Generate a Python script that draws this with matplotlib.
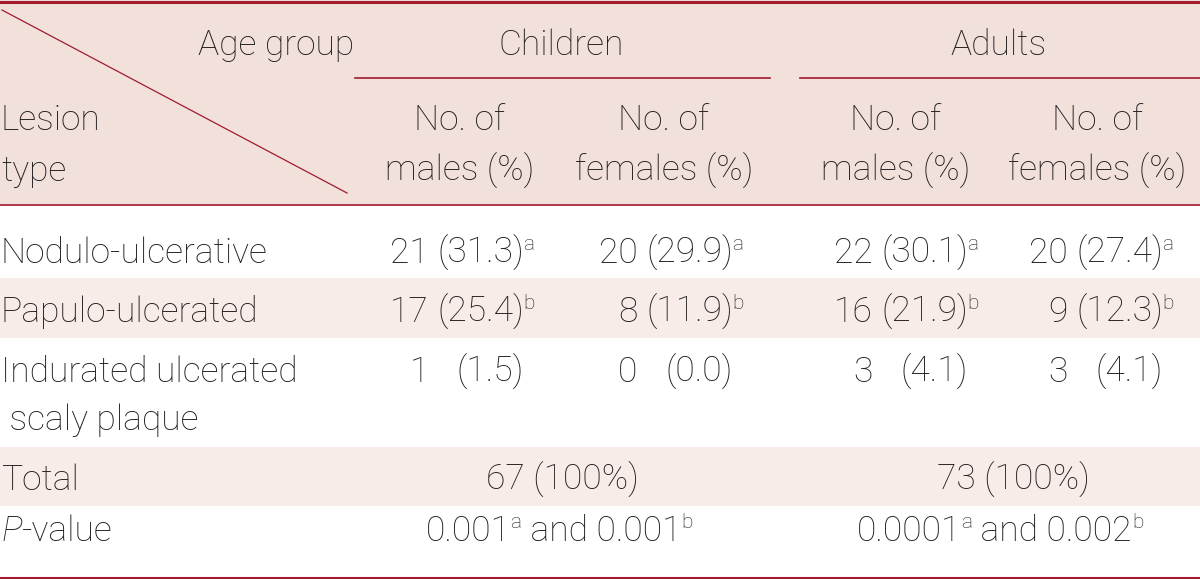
import matplotlib
matplotlib.use("Agg")
import matplotlib.pyplot as plt
from matplotlib.patches import Rectangle

# table contents
age_groups = ["Children", "Adults"]
sub_headers = [("No. of", "males (%)"), ("No. of", "females (%)")]
lesion_types = ["Nodulo-ulcerative", "Papulo-ulcerated", "Indurated ulcerated"]
lesion_extra = " scaly plaque"

children_male_n = [21, 17, 1]
children_male_pct = [31.3, 25.4, 1.5]
children_female_n = [20, 8, 0]
children_female_pct = [29.9, 11.9, 0.0]
adult_male_n = [22, 16, 3]
adult_male_pct = [30.1, 21.9, 4.1]
adult_female_n = [20, 9, 3]
adult_female_pct = [27.4, 12.3, 4.1]
row_marks = ["a", "b", ""]

totals = [67, 73]
p_values = [("0.001", "0.001"), ("0.0001", "0.002")]

# style
LINE = "#a01c2d"
HEAD_BG = "#f2e1db"
BAND_BG = "#f7ece8"
TXT = "#231f20"
FONT = "Roboto"
FS = 25.5
SUP_FS = 15

W, H = 1200, 579
fig = plt.figure(figsize=(12, 5.79), dpi=100)
ax = fig.add_axes([0, 0, 1, 1])
ax.set_xlim(0, W)
ax.set_ylim(H, 0)
ax.axis("off")
renderer = fig.canvas.get_renderer()

base = dict(family=FONT, fontweight="light", color=TXT, va="baseline")


def txt(x, y, s, ha="left", size=FS, **kw):
    return ax.text(x, y, s, ha=ha, fontsize=size, **{**base, **kw})


def width(t):
    return t.get_window_extent(renderer).width


def measure(s):
    t = txt(W / 2, H / 2, s)
    w = width(t)
    t.remove()
    return w


# backgrounds
ax.add_patch(Rectangle((0, 0), W, 205, color=HEAD_BG, lw=0))
ax.add_patch(Rectangle((0, 278), W, 60, color=BAND_BG, lw=0))
ax.add_patch(Rectangle((0, 447), W, 59, color=BAND_BG, lw=0))

# rules
ax.plot([0, W], [1.5, 1.5], color=LINE, lw=2.2)
ax.plot([0, W], [205, 205], color=LINE, lw=1.2)
ax.plot([0, W], [577.5, 577.5], color=LINE, lw=2.2)
ax.plot([355, 770], [78, 78], color=LINE, lw=1.2)
ax.plot([800, W], [78, 78], color=LINE, lw=1.2)
ax.plot([2, 347], [10, 193], color=LINE, lw=0.9)

# header
txt(354, 55, "Age group", ha="right")
for label, cx in zip(age_groups, [561, 998]):
    txt(cx, 55, label, ha="center")
txt(1, 130, "Lesion")
txt(1, 181, "type")
sub_x = [460, 664, 896, 1097]
for i, cx in enumerate(sub_x):
    top, bottom = sub_headers[i % 2]
    txt(cx, 130, top, ha="center")
    txt(cx, 181, bottom, ha="center")

# body
row_y = [263, 322, 382]
for name, y in zip(lesion_types, row_y):
    txt(1, y, name)
txt(1, 430, lesion_extra)

columns = [
    (children_male_n, children_male_pct, 524),
    (children_female_n, children_female_pct, 733),
    (adult_male_n, adult_male_pct, 968),
    (adult_female_n, adult_female_pct, 1163),
]
space_w = measure("0 0") - measure("00")
for counts, pcts, x_pct in columns:
    pct_texts = [txt(x_pct, y, f"({p:.1f})", ha="right") for p, y in zip(pcts, row_y)]
    # numbers right-aligned one space left of the widest percentage
    x_num = x_pct - max(width(t) for t in pct_texts) - space_w
    for n, mark, y in zip(counts, row_marks, row_y):
        txt(x_num, y, str(n), ha="right")
        if mark:
            txt(x_pct - 1, y - 13, mark, size=SUP_FS)

txt(1, 490, "Total")
for t, cx in zip(totals, [562, 1013]):
    txt(cx, 490, f"{t} (100%)", ha="center")


# P-value row: text runs with superscripts, centred as a whole
def draw_runs(cx, y, runs):
    items = []
    for s, kind in runs:
        if kind == "sup":
            t = txt(W / 2, y - 13, s, size=SUP_FS)
        elif kind == "it":
            t = txt(W / 2, y, s, fontstyle="italic")
        else:
            t = txt(W / 2, y, s)
        items.append(t)
    widths = [width(t) for t in items]
    x = cx - sum(widths) / 2 if cx is not None else 1
    for t, w in zip(items, widths):
        t.set_x(x)
        x += w


draw_runs(None, 541, [("P", "it"), ("-value", "n")])
for (pa, pb), cx in zip(p_values, [559, 1000]):
    draw_runs(cx, 541, [(pa, "n"), ("a", "sup"), (" and " + pb, "n"), ("b", "sup")])

fig.savefig("out.png", dpi=100)
